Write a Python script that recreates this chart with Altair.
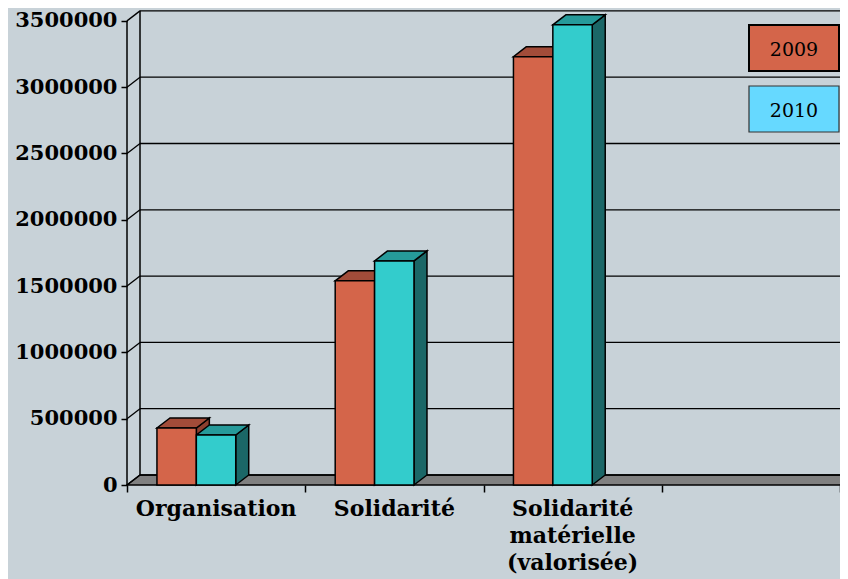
import altair as alt
import pandas as pd

# ---- data ----
categories = ["Organisation", "Solidarité", "Solidarité\nmatérielle\n(valorisée)", ""]
series = ["2009", "2010"]
values_2009 = [430000, 1540000, 3230000]
values_2010 = [377000, 1690000, 3470000]
y_ticks = [0, 500000, 1000000, 1500000, 2000000, 2500000, 3000000, 3500000]

# ---- styling ----
front_colors = {"2009": "#D4654A", "2010": "#33CCCC"}
top_colors = {"2009": "#A24C39", "2010": "#269A9A"}
side_colors = {"2009": "#8C3F2F", "2010": "#1B6767"}
legend_colors = {"2009": "#D4654A", "2010": "#66D9FF"}
BG = "#C8D2D8"
FONT = "DejaVu Serif"

W, H = 713, 475
X_MAX = len(categories)
Y_MAX = 3582000
DX = 13 * X_MAX / W      # 3D depth, x units
DY = 10 * Y_MAX / H      # 3D depth, y units
BAR_START = 0.168
BAR_W = 0.221

values = {"2009": values_2009, "2010": values_2010}

fronts, tops, sides = [], [], []
for k, s in enumerate(series):
    for i, v in enumerate(values[s]):
        x0 = i + BAR_START + k * BAR_W
        x1 = x0 + BAR_W
        bid = f"{s}-{i}"
        fronts.append(dict(bar=bid, x0=x0, x1=x1, y0=0, y1=v, col=front_colors[s]))
        tops.append(dict(bar=bid, y=v, xa=x0, xb=x1, col=top_colors[s]))
        tops.append(dict(bar=bid, y=v + DY, xa=x0 + DX, xb=x1 + DX, col=top_colors[s]))
        sides.append(dict(bar=bid, x=x1, ya=0, yb=v, col=side_colors[s]))
        sides.append(dict(bar=bid, x=x1 + DX, ya=DY, yb=v + DY, col=side_colors[s]))

df_front = pd.DataFrame(fronts)
df_top = pd.DataFrame(tops)
df_side = pd.DataFrame(sides)
df_floor = pd.DataFrame([dict(y=0, xa=0, xb=X_MAX), dict(y=DY, xa=DX, xb=X_MAX + DX)])
df_grid = pd.DataFrame([dict(t=t, yb=t + DY, xa=0, xb=DX, xe=X_MAX + DX) for t in y_ticks])
df_wall = pd.DataFrame([dict(x=DX, y=DY, y2=y_ticks[-1] + DY), dict(x=0, y=0, y2=y_ticks[-1])])
df_lab = pd.DataFrame([dict(x=i + 0.5, y=0, label=c) for i, c in enumerate(categories)])

xs = alt.Scale(domain=[0, X_MAX], nice=False, zero=False)
ys = alt.Scale(domain=[0, Y_MAX], nice=False, zero=False)

x_axis = alt.Axis(values=list(range(X_MAX + 1)), labels=False, tickSize=7, tickWidth=1.5,
                  tickColor="black", domain=False, grid=False, title=None)
y_axis = alt.Axis(values=y_ticks, format="d", tickSize=6, tickWidth=1.5, tickColor="black",
                  domain=False, grid=False, title=None, labelFont=FONT, labelFontWeight="bold",
                  labelFontSize=21, labelColor="black", labelPadding=4, labelFlush=False,
                  labelOverlap=False)


def X(f):
    return alt.X(f, type="quantitative", scale=xs, axis=x_axis, stack=None)


def Y(f):
    return alt.Y(f, type="quantitative", scale=ys, axis=y_axis, stack=None)


floor = alt.Chart(df_floor).mark_area(orient="horizontal", fill="#808080", stroke="black",
                                        strokeWidth=1.5).encode(
    y=Y("y"), x=X("xa"), x2="xb")

grid_back = alt.Chart(df_grid).mark_rule(color="black", strokeWidth=1.3).encode(
    x=X("xb"), x2="xe", y=Y("yb"))
grid_diag = alt.Chart(df_grid).mark_rule(color="black", strokeWidth=1.3).encode(
    x=X("xa"), x2="xb", y=Y("t"), y2="yb")
walls = alt.Chart(df_wall).mark_rule(color="black", strokeWidth=1.5).encode(
    x=X("x"), y=Y("y"), y2="y2")

side = alt.Chart(df_side).mark_area(orient="vertical", stroke="black", strokeWidth=1.5).encode(
    x=X("x"), y=Y("ya"), y2="yb", detail="bar:N", fill=alt.Fill("col:N", scale=None))
top = alt.Chart(df_top).mark_area(orient="horizontal", stroke="black", strokeWidth=1.5).encode(
    y=Y("y"), x=X("xa"), x2="xb", detail="bar:N", fill=alt.Fill("col:N", scale=None))
front = alt.Chart(df_front).mark_rect(stroke="black", strokeWidth=1.5).encode(
    x=X("x0"), x2="x1", y=Y("y0"), y2="y1", fill=alt.Fill("col:N", scale=None))

labels = alt.Chart(df_lab).mark_text(font=FONT, fontWeight="bold", fontSize=22, baseline="top",
                                     align="center", lineBreak="\n", lineHeight=27, dy=14,
                                     color="black").encode(
    x=X("x"), y=Y("y"), text="label:N")

legend_layers = []
box_top = {"2009": 15, "2010": 76}
for s in series:
    legend_layers.append(
        alt.Chart(pd.DataFrame([dict(s=s)])).mark_rect(
            fill=legend_colors[s], stroke="black" if s == "2009" else "#333333",
            strokeWidth=2 if s == "2009" else 1.2).encode(
            x=alt.value(622), x2=alt.value(712),
            y=alt.value(box_top[s]), y2=alt.value(box_top[s] + 46)))
    legend_layers.append(
        alt.Chart(pd.DataFrame([dict(s=s)])).mark_text(
            font=FONT, fontSize=19, color="black", align="center", baseline="alphabetic").encode(
            x=alt.value(667), y=alt.value(box_top[s] + 31), text="s:N"))

chart = alt.layer(floor, grid_back, grid_diag, walls, side, top, front, labels,
                  *legend_layers).properties(
    width=W, height=H,
    padding={"left": 119, "top": 2, "right": 0, "bottom": 94},
    autosize=alt.AutoSizeParams(type="none"),
    background=BG,
).configure_view(stroke=None)

chart.save("out.html", embed_options={"renderer": "svg", "actions": False})
